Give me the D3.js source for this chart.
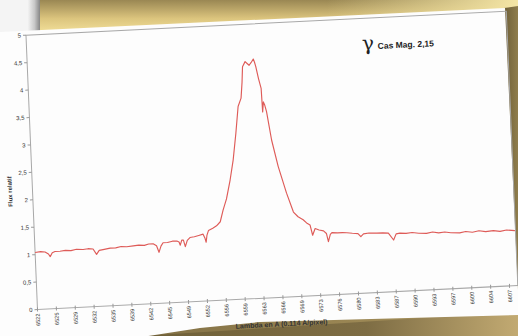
<!DOCTYPE html>
<html><head><meta charset="utf-8">
<script src="https://cdn.jsdelivr.net/npm/d3@7"></script>
<style>html,body{margin:0;padding:0;background:#fff;overflow:hidden}</style>
</head><body>
<svg id="c" width="518" height="336"></svg>
<script>
// ---- data ----
const wavelength = [6522.0,6523.0,6523.8,6524.4,6524.7,6525.1,6525.6,6526.5,6527.5,6528.5,6529.5,6530.7,6531.6,6532.5,6533.1,6533.6,6534.3,6535.6,6536.6,6537.6,6538.6,6539.8,6540.8,6541.8,6542.6,6543.4,6544.0,6544.4,6544.8,6545.2,6546.0,6546.9,6547.7,6548.1,6548.3,6548.6,6548.9,6549.2,6549.6,6550.1,6550.9,6551.7,6552.5,6552.8,6553.0,6553.2,6553.5,6554.3,6555.0,6555.7,6556.3,6557.0,6557.8,6558.5,6559.2,6559.8,6560.4,6560.7,6560.9,6561.4,6561.8,6562.1,6562.5,6562.9,6563.1,6563.3,6563.7,6564.1,6564.2,6564.4,6564.6,6564.9,6565.6,6566.6,6567.9,6569.0,6569.8,6570.7,6571.3,6571.9,6572.3,6572.8,6573.5,6574.3,6574.8,6575.1,6575.5,6575.8,6576.8,6577.7,6578.5,6579.5,6580.5,6581.0,6581.5,6582.5,6583.9,6585.0,6586.0,6586.9,6587.4,6588.1,6589.2,6590.3,6591.5,6592.9,6594.0,6595.1,6596.2,6597.3,6598.9,6600.0,6601.2,6602.4,6603.6,6605.0,6606.2,6607.4,6608.9];
const flux = [1.04,1.05,1.04,1.00,0.95,1.02,1.04,1.04,1.05,1.04,1.06,1.05,1.06,1.05,0.95,1.02,1.03,1.05,1.05,1.07,1.06,1.07,1.08,1.07,1.09,1.09,1.05,0.93,1.04,1.10,1.10,1.12,1.12,1.10,1.04,1.13,1.13,1.01,1.12,1.17,1.18,1.20,1.22,1.15,1.07,1.20,1.28,1.32,1.36,1.43,1.64,1.84,2.18,2.54,3.03,3.51,3.66,3.95,4.23,4.32,4.28,4.25,4.30,4.36,4.30,4.22,4.00,3.82,3.39,3.57,3.52,3.39,2.87,2.38,1.89,1.54,1.45,1.39,1.33,1.29,1.10,1.22,1.19,1.17,1.12,0.97,1.10,1.13,1.12,1.12,1.115,1.10,1.09,1.03,1.08,1.09,1.08,1.08,1.07,0.94,1.05,1.06,1.05,1.06,1.04,1.03,1.05,1.03,1.04,1.02,1.01,1.03,1.01,1.03,1.01,1.02,1.00,1.02,1.00];
const xTickLabels = ["6522","6525","6529","6532","6535","6539","6542","6545","6549","6552","6556","6559","6563","6566","6569","6573","6576","6580","6583","6587","6590","6593","6597","6600","6604","6607"];
const yTicks = [0,0.5,1,1.5,2,2.5,3,3.5,4,4.5,5];
const startLambda = 6522, dispersion = 0.114, pixelsPerLabel = 30;
const titleGreek = "γ", titleText = "Cas Mag. 2,15";
const xTitle = "Lambda en A (0.114 A/pixel)", yTitle = "Flux relatif";

const svg = d3.select("#c");
const defs = svg.append("defs");
function lg(id, x1,y1,x2,y2, stops){
  const g = defs.append("linearGradient").attr("id",id).attr("x1",x1).attr("y1",y1).attr("x2",x2).attr("y2",y2);
  stops.forEach(s=>g.append("stop").attr("offset",s[0]).attr("stop-color",s[1]));
}
lg("bgG","0","0","1","1",[[0,"#8c7b4b"],[0.6,"#7d6c42"],[1,"#b39c62"]]);
lg("bandG","0","0","0","1",[[0,"#9a8753"],[0.55,"#dcc57e"],[1,"#f4e29c"]]);
lg("bandR","0","0","1","0",[[0,"#ffffff00"],[0.6,"#f3e4a200"],[1,"#f5e6a6"]]);
lg("shadeL","0","0","1","0",[[0,"#f2f2f2"],[0.5,"#c8c8c8"],[1,"#7a7a7a"]]);
lg("botG","0","0","1","0",[[0,"#6f6038"],[0.6,"#7e6d44"],[1,"#c2aa72"]]);
lg("rightG","0","0","1","0",[[0,"#6e5f38"],[1,"#8f7d4c"]]);

svg.append("rect").attr("width",518).attr("height",336).attr("fill","url(#bgG)");
// top-left white surface with shadow
svg.append("rect").attr("x",0).attr("y",0).attr("width",30).attr("height",36).attr("fill","#f4f4f4");
svg.append("rect").attr("x",28).attr("y",0).attr("width",13).attr("height",34).attr("fill","url(#shadeL)");
// golden band behind the sheet
svg.append("polygon").attr("points","40,0 518,0 518,12 40,34").attr("fill","url(#bandG)");
svg.append("polygon").attr("points","40,0 518,0 518,12 40,34").attr("fill","url(#bandR)");
// right dark strip
svg.append("polygon").attr("points","504,8 518,6 518,300").attr("fill","url(#rightG)");
// bottom dark area
svg.append("polygon").attr("points","140,336 518,312 518,336").attr("fill","url(#botG)");
// the sheet
svg.append("polygon").attr("points","-10,32.4 505,8 518,290 518,315 260,322 200,328 142,337 -10,337").attr("fill","#fdfdfd");

// chart group, photographed at a slight angle
const g = svg.append("g").attr("transform","matrix(1,-0.05,0.042,1,37.5,309.5)");
const W = 480.3, H = 274.3;
const x = d3.scaleLinear().domain([startLambda, 6609]).range([0, W]);
const y = d3.scaleLinear().domain([0, 5]).range([0, -H]);

g.append("rect").attr("x",0).attr("y",-H).attr("width",W).attr("height",H)
  .attr("fill","none").attr("stroke","#a8a8a8").attr("stroke-width",1);

const font = "'Liberation Sans', Arial, sans-serif";
// y axis
yTicks.forEach(t=>{
  g.append("line").attr("x1",-3).attr("x2",0).attr("y1",y(t)).attr("y2",y(t)).attr("stroke","#999");
  g.append("text").attr("x",-5).attr("y",y(t)).attr("dy","0.35em").attr("text-anchor","end")
    .attr("font-family",font).attr("font-size",6).attr("fill","#333")
    .text(String(t).replace(".",","));
});
// x axis
xTickLabels.forEach((lab,i)=>{
  const xv = x(startLambda + i*pixelsPerLabel*dispersion);
  g.append("line").attr("x1",xv).attr("x2",xv).attr("y1",-2).attr("y2",2).attr("stroke","#999");
  g.append("text").attr("transform",`translate(${xv},4) rotate(-90)`).attr("dy","0.35em")
    .attr("text-anchor","end").attr("font-family",font).attr("font-size",5.6).attr("fill","#333").text(lab);
});
g.append("text").attr("x",243).attr("y",29).attr("text-anchor","middle").attr("font-family",font)
  .attr("font-weight","bold").attr("font-size",7).attr("fill","#333").text(xTitle);
g.append("text").attr("transform",`translate(-20.5,${y(2.17)}) rotate(-90)`).attr("text-anchor","middle")
  .attr("font-family",font).attr("font-weight","bold").attr("font-size",6).attr("fill","#333").text(yTitle);

// spectrum
const pts = wavelength.map((w,i)=>[w, flux[i]]);
g.append("path").datum(pts).attr("fill","none").attr("stroke","#de5b58").attr("stroke-width",1.15)
  .attr("stroke-linejoin","round")
  .attr("d", d3.line().x(d=>x(d[0])).y(d=>y(d[1])));

// title
g.append("text").attr("x",335).attr("y",-242.5).attr("font-family","'DejaVu Serif', serif")
  .attr("font-size",20).attr("fill","#222").text(titleGreek);
g.append("text").attr("x",350.5).attr("y",-243).attr("font-family",font).attr("font-weight","bold")
  .attr("font-size",8.5).attr("fill","#222").text(titleText);
</script>
</body></html>
